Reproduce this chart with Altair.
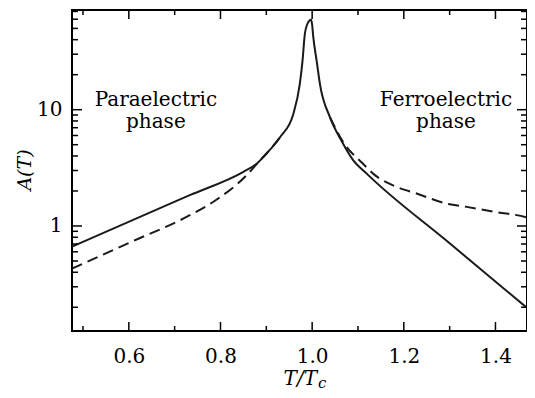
import altair as alt
import pandas as pd

# ---- data ----
solid_left_T = [0.476, 0.653, 0.733, 0.849, 0.879, 0.900, 0.930, 0.959, 0.973, 0.979, 0.984, 0.989, 0.997]
solid_left_A = [0.665, 1.34, 1.84, 2.91, 3.43, 4.18, 5.8, 9.2, 16.6, 26.3, 44.6, 54, 60]
solid_right_T = [0.997, 1.000, 1.002, 1.010, 1.017, 1.039, 1.064, 1.089, 1.119, 1.300, 1.484]
solid_right_A = [60, 54, 44, 26, 16.6, 8.6, 5.4, 3.7, 2.82, 0.71, 0.176]
dashed_left_T = [0.476, 0.609, 0.730, 0.791, 0.857, 0.886, 0.900, 0.930]
dashed_left_A = [0.43, 0.74, 1.22, 1.68, 2.73, 3.66, 4.18, 5.8]
dashed_right_T = [1.039, 1.068, 1.111, 1.133, 1.184, 1.228, 1.293, 1.337, 1.400, 1.475, 1.484]
dashed_right_A = [8.6, 5.25, 3.43, 2.82, 2.17, 1.90, 1.56, 1.46, 1.32, 1.16, 1.125]

x_major = [0.6, 0.8, 1.0, 1.2, 1.4]
x_minor = [0.5, 0.7, 0.9, 1.1, 1.3]
y_major = [1, 10]
y_minor = [0.2, 0.3, 0.4, 0.5, 0.6, 0.7, 0.8, 0.9, 2, 3, 4, 5, 6, 7, 8, 9, 20, 30, 40, 50, 60, 70]

annot_text = ["Paraelectric", "phase", "Ferroelectric", "phase"]
annot_T = [0.659, 0.659, 1.292, 1.292]
annot_A = [10.8, 7.0, 10.8, 7.0]

W, H = 455, 321
FONT = "DejaVu Serif"
xdom = [0.476, 0.476 + W / 458.3]
ydom = [0.125, 72]

def frame(T, A, branch):
    return pd.DataFrame({"T": T, "A": A, "branch": branch})

solid = pd.concat([frame(solid_left_T, solid_left_A, "L"), frame(solid_right_T, solid_right_A, "R")])
dashed = pd.concat([frame(dashed_left_T, dashed_left_A, "L"), frame(dashed_right_T, dashed_right_A, "R")])

xs = alt.Scale(domain=xdom, nice=False, zero=False)
ys = alt.Scale(type="log", domain=ydom, nice=False)

x_axis = alt.Axis(values=x_major, format=".1f", ticks=False, domain=False, grid=False,
                  labelFont=FONT, labelFontSize=20, labelColor="black", labelPadding=15, title=None)
y_axis = alt.Axis(values=y_major, format="d", ticks=False, domain=False, grid=False,
                  labelFont=FONT, labelFontSize=20, labelColor="black", labelPadding=10, title=None)

X = alt.X("T:Q", scale=xs, axis=x_axis)
Y = alt.Y("A:Q", scale=ys, axis=y_axis)

dashed_line = alt.Chart(dashed).mark_line(color="#1a1a1a", strokeWidth=2, strokeDash=[11, 6],
                                          interpolate="monotone", clip=True).encode(
    x=X, y=Y, detail="branch:N")
solid_line = alt.Chart(solid).mark_line(color="#1a1a1a", strokeWidth=2,
                                        interpolate="monotone", clip=True).encode(
    x=X, y=Y, detail="branch:N")

def xticks(vals, length):
    d = pd.DataFrame({"T": vals})
    bot = alt.Chart(d).mark_rule(color="black", strokeWidth=1.5).encode(
        x=X, y=alt.value(H), y2=alt.value(H - length))
    top = alt.Chart(d).mark_rule(color="black", strokeWidth=1.5).encode(
        x=X, y=alt.value(0), y2=alt.value(length))
    return [bot, top]

def yticks(vals, length):
    d = pd.DataFrame({"A": vals})
    lft = alt.Chart(d).mark_rule(color="black", strokeWidth=1.5).encode(
        y=Y, x=alt.value(0), x2=alt.value(length))
    rgt = alt.Chart(d).mark_rule(color="black", strokeWidth=1.5).encode(
        y=Y, x=alt.value(W), x2=alt.value(W - length))
    return [lft, rgt]

annot = alt.Chart(pd.DataFrame({"t": annot_text, "T": annot_T, "A": annot_A})).mark_text(
    font=FONT, fontSize=20, color="black", align="center", baseline="alphabetic").encode(
    x=X, y=Y, text="t:N")

dummy = pd.DataFrame({"k": [0]})
xtitle_main = alt.Chart(dummy).mark_text(font=FONT, fontSize=20, fontStyle="italic", color="black",
                                         align="right", baseline="alphabetic", text="T/T").encode(
    x=alt.value(245), y=alt.value(375))
xtitle_sub = alt.Chart(dummy).mark_text(font=FONT, fontSize=15, fontStyle="italic", color="black",
                                        align="left", baseline="alphabetic", text="c").encode(
    x=alt.value(246), y=alt.value(378))
ytitle = alt.Chart(dummy).mark_text(font=FONT, fontSize=19, fontStyle="italic", color="black",
                                    align="center", baseline="middle", angle=270, text="A(T)").encode(
    x=alt.value(-47), y=alt.value(160))

layers = [dashed_line, solid_line] + xticks(x_major, 9) + xticks(x_minor, 5) \
    + yticks(y_major, 10) + yticks(y_minor, 6) + [annot, xtitle_main, xtitle_sub, ytitle]

chart = alt.layer(*layers).properties(
    width=W, height=H,
    padding={"left": 64, "top": 2, "right": 0, "bottom": 60},
    autosize=alt.AutoSizeParams(type="none"),
).configure(background="white").configure_view(stroke="black", strokeWidth=2)

chart.save("out.html", embed_options={"renderer": "svg", "actions": False})
